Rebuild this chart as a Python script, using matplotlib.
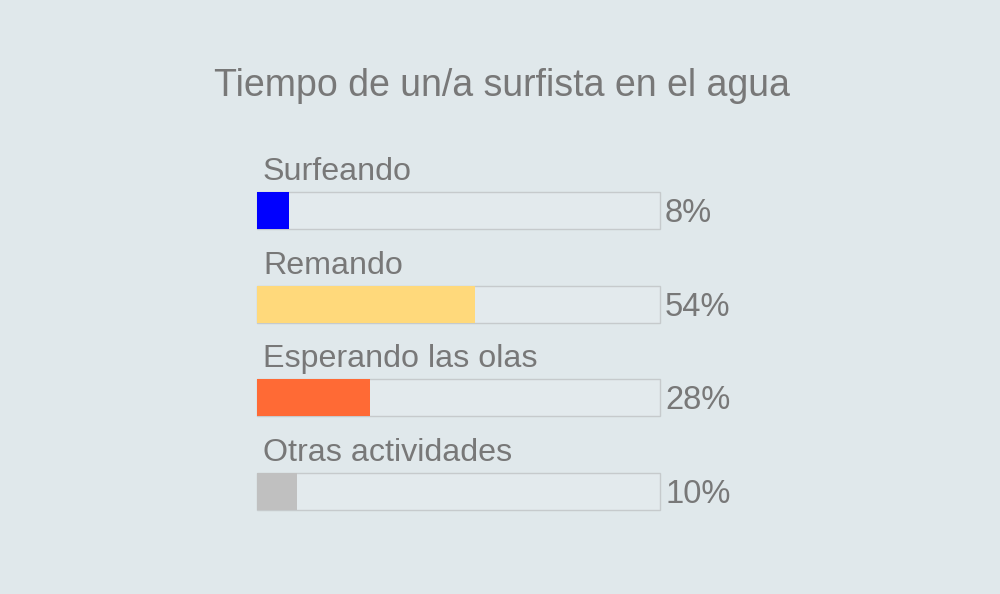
import matplotlib
matplotlib.use("Agg")
import matplotlib.pyplot as plt

categories = ["Surfeando", "Remando", "Esperando las olas", "Otras actividades"]
values = [8, 54, 28, 10]
colors = ["#0000ff", "#ffd97b", "#ff6a35", "#c0c0c0"]
title = "Tiempo de un/a surfista en el agua"

W, H = 1000, 594
BG = "#e0e8eb"
TXT = "#787878"
FONT = "Liberation Sans"

fig = plt.figure(figsize=(W / 100, H / 100), dpi=100, facecolor=BG)

spacing = 93.67
bar_px = 37.0
first_center = 210.5
top = first_center - spacing / 2
ax_h = spacing * len(categories)
ax = fig.add_axes([257 / W, 1 - (top + ax_h) / H, 403 / W, ax_h / H])
ax.set_facecolor("none")
ax.set_xlim(0, 100)
ax.set_ylim(len(categories) - 0.5, -0.5)
ax.axis("off")

bh = bar_px / spacing
ys = list(range(len(categories)))
# track
tracks = ax.barh(ys, [100] * len(ys), height=bh, color="#e3eaed", edgecolor="#c6cacc",
                 linewidth=1.0, zorder=1)
for p in tracks:
    p.set_clip_on(False)
ax.barh(ys, values, height=bh, color=colors, edgecolor="none", zorder=2)

px_x = 100 / 403
px_y = 1 / spacing
for y, cat, v in zip(ys, categories, values):
    ax.text(6 * px_x, y - bh / 2 - 12 * px_y, cat, ha="left", va="baseline",
            fontsize=23.2, color=TXT, family=FONT, clip_on=False)
    ax.text(100 + 5 * px_x, y + 11.5 * px_y, f"{v}%", ha="left", va="baseline",
            fontsize=23.5, color=TXT, family=FONT, clip_on=False)

fig.text(502 / W, 1 - 96 / H, title, ha="center", va="baseline",
         fontsize=27, color=TXT, family=FONT)

fig.savefig("out.png", dpi=100, facecolor=BG)
